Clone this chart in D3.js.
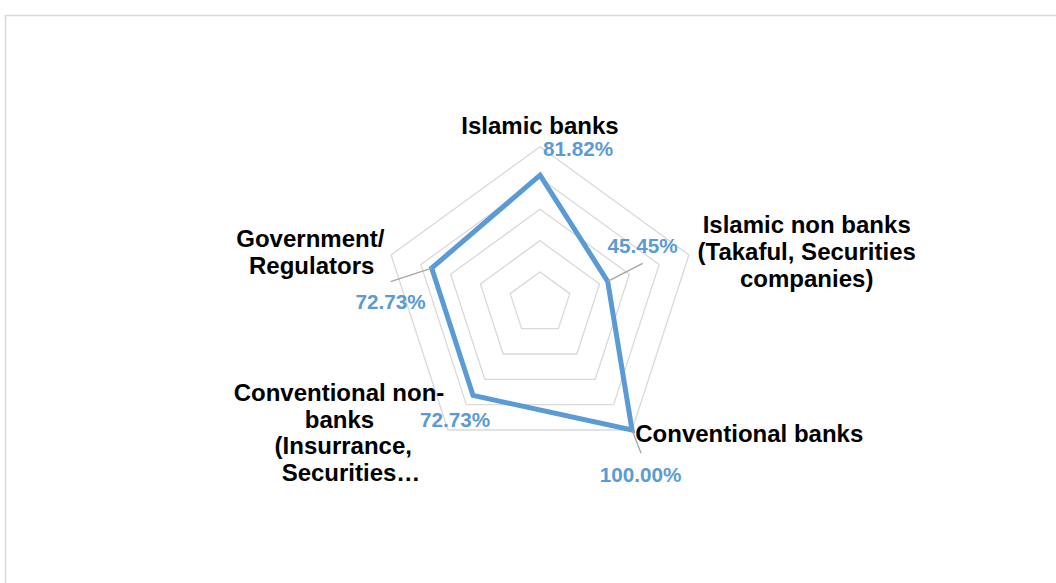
<!DOCTYPE html>
<html>
<head>
<meta charset="utf-8">
<script src="https://cdn.jsdelivr.net/npm/d3@7/dist/d3.min.js"></script>
<style>
  html, body { margin: 0; padding: 0; background: #fff; }
  svg { display: block; }
  text { font-family: "Liberation Sans", Arial, sans-serif; font-weight: bold; }
</style>
</head>
<body>
<svg id="chart" width="1056" height="583"></svg>
<script>
// Categories (axis order, clockwise from top) and their values
const categories = [
  "Islamic banks",
  "Islamic non banks (Takaful, Securities companies)",
  "Conventional banks",
  "Conventional non-banks (Insurrance, Securities…",
  "Government/ Regulators"
];
const categoryLines = [
  ["Islamic banks"],
  ["Islamic non banks", "(Takaful, Securities", "companies)"],
  ["Conventional banks"],
  ["Conventional non-", "banks", "(Insurrance,", "Securities…"],
  ["Government/", "Regulators"]
];
const values = [0.8182, 0.4545, 1.0, 0.7273, 0.7273];
const gridLevels = [0.2, 0.4, 0.6, 0.8, 1.0];

const svg = d3.select("#chart");
const W = 1056, H = 583;

// chart area frame
svg.append("rect")
  .attr("x", 5.5).attr("y", 15.5)
  .attr("width", W + 10).attr("height", H + 10)
  .attr("fill", "#fff")
  .attr("stroke", "#d9d9d9").attr("stroke-width", 1.5);

const cx = 540, cy = 303.3, R = 156.6;
const rScale = d3.scaleLinear().domain([0, 1]).range([0, R]);
const angle = d3.scaleLinear().domain([0, categories.length]).range([0, 2 * Math.PI]);

const g = svg.append("g").attr("transform", `translate(${cx},${cy})`);
const pt = (i, v) => [Math.sin(angle(i)) * rScale(v), -Math.cos(angle(i)) * rScale(v)];

// concentric pentagon gridlines
g.selectAll("path.grid")
  .data(gridLevels)
  .join("path")
  .attr("class", "grid")
  .attr("d", lv => d3.line().curve(d3.curveLinearClosed)(categories.map((c, i) => pt(i, lv))))
  .attr("fill", "none")
  .attr("stroke", "#d9d9d9")
  .attr("stroke-width", 1.3);

// series outline
const radial = d3.lineRadial()
  .angle((d, i) => angle(i))
  .radius(d => rScale(d))
  .curve(d3.curveLinearClosed);

g.append("path")
  .datum(values)
  .attr("d", radial)
  .attr("fill", "none")
  .attr("stroke", "#5b9bd5")
  .attr("stroke-width", 5)
  .attr("stroke-linejoin", "miter");

// data labels: offset from each point, with optional leader line
const labelLayout = [
  { dx: 38, dy: -19, leader: null },
  { dx: 35, dy: -28.6, leader: [35, -18] },
  { dx: 8.5, dy: 51.7, leader: [9, 23.3] },
  { dx: -18, dy: 32, leader: null },
  { dx: -41, dy: 41, leader: [-41, 13.6] }
];

values.forEach((v, i) => {
  const [px, py] = pt(i, v);
  const L = labelLayout[i];
  if (L.leader) {
    g.append("line")
      .attr("x1", px).attr("y1", py)
      .attr("x2", px + L.leader[0]).attr("y2", py + L.leader[1])
      .attr("stroke", "#a6a6a6").attr("stroke-width", 1.3);
  }
});

g.selectAll("text.val")
  .data(values)
  .join("text")
  .attr("class", "val")
  .attr("x", (d, i) => pt(i, d)[0] + labelLayout[i].dx)
  .attr("y", (d, i) => pt(i, d)[1] + labelLayout[i].dy)
  .attr("text-anchor", "middle")
  .attr("fill", "#5b9bd5")
  .attr("font-size", "20.7px")
  .text(d => d3.format(".2%")(d));

// category labels (wrapped), positioned around the outer ring
const catLayout = [
  { x: 540, y: 134, lx: [0] },
  { x: 806.7, y: 233.3, lx: [0, 0, 0] },
  { x: 749.3, y: 441.7, lx: [0] },
  { x: 339, y: 400.7, lx: [0, 0.5, 4.3, 12] },
  { x: 311, y: 246.7, lx: [-0.7, 0.7] }
];
const lineH = 26.8;

categoryLines.forEach((lines, i) => {
  const L = catLayout[i];
  const t = svg.append("text")
    .attr("text-anchor", "middle")
    .attr("fill", "#000")
    .attr("font-size", "24px");
  lines.forEach((s, k) => {
    t.append("tspan")
      .attr("x", L.x + L.lx[k])
      .attr("y", L.y + k * lineH)
      .text(s);
  });
});
</script>
</body>
</html>
